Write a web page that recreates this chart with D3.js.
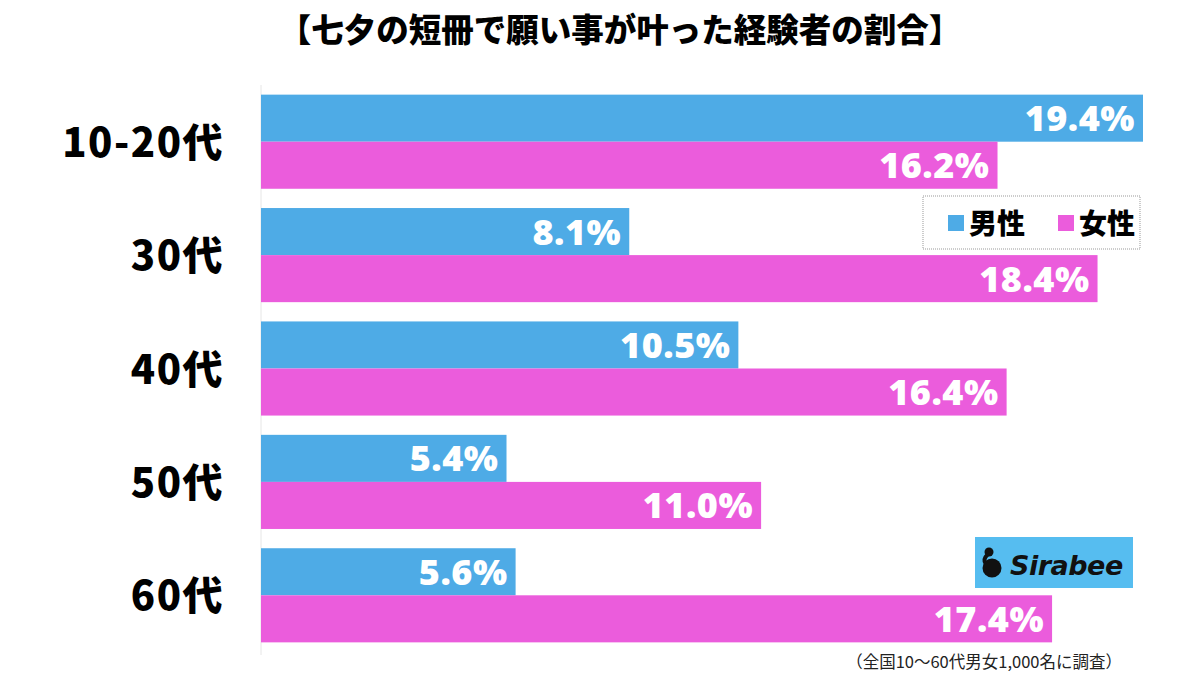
<!DOCTYPE html>
<html>
<head>
<meta charset="utf-8">
<script src="https://cdn.jsdelivr.net/npm/d3@7"></script>
<style>
  body { margin: 0; background: #fff; }
  svg { display: block; }
</style>
</head>
<body>
<div id="chart"></div>
<script>
// data
const categories = ["10-20代", "30代", "40代", "50代", "60代"];
const seriesNames = ["男性", "女性"];
const maleValues = [19.4, 8.1, 10.5, 5.4, 5.6];
const femaleValues = [16.2, 18.4, 16.4, 11.0, 17.4];
const colors = ["#4eabe6", "#eb5cdc"];

const W = 1200, H = 681;
const left = 261;

const svg = d3.select("#chart").append("svg")
  .attr("width", W)
  .attr("height", H);

// title
svg.append("text")
  .attr("x", 620)
  .attr("y", 42)
  .attr("text-anchor", "middle")
  .style("font-family", "'Noto Sans CJK JP', sans-serif")
  .style("font-weight", 900)
  .style("font-size", "32.5px")
  .text("【七夕の短冊で願い事が叶った経験者の割合】");

const x = d3.scaleLinear().domain([0, 19.4]).range([left, 1143]);

const y0 = d3.scaleBand()
  .domain(categories)
  .range([85, 652])
  .paddingInner(0.17)
  .paddingOuter(0.085);

const y1 = d3.scaleBand()
  .domain(seriesNames)
  .range([0, y0.bandwidth()]);

// faint axis line
svg.append("line")
  .attr("x1", left).attr("x2", left)
  .attr("y1", 85).attr("y2", 655)
  .attr("stroke", "#e6e6e6")
  .attr("stroke-width", 1);

const rows = categories.map((c, i) => ({
  cat: c,
  vals: [
    { s: seriesNames[0], v: maleValues[i], col: colors[0] },
    { s: seriesNames[1], v: femaleValues[i], col: colors[1] }
  ]
}));

const g = svg.selectAll(".grp")
  .data(rows)
  .enter()
  .append("g")
  .attr("transform", d => `translate(0,${y0(d.cat)})`);

g.selectAll("rect")
  .data(d => d.vals)
  .enter()
  .append("rect")
  .attr("x", left)
  .attr("y", d => y1(d.s))
  .attr("width", d => x(d.v) - left)
  .attr("height", y1.bandwidth())
  .attr("fill", d => d.col);

g.selectAll(".val")
  .data(d => d.vals)
  .enter()
  .append("text")
  .attr("x", d => x(d.v) - 8)
  .attr("y", d => y1(d.s) + y1.bandwidth() / 2 + 13)
  .attr("text-anchor", "end")
  .attr("fill", "#fff")
  .style("font-family", "'Open Sans', sans-serif")
  .style("font-weight", 800)
  .style("font-size", "36px")
  .style("letter-spacing", "0.5px")
  .text(d => d.v.toFixed(1) + "%");

// category labels
svg.selectAll(".cat")
  .data(categories)
  .enter()
  .append("text")
  .attr("x", 224)
  .attr("y", d => y0(d) + y0.bandwidth() / 2 + 15)
  .attr("text-anchor", "end")
  .style("font-family", "'Noto Sans CJK JP', sans-serif")
  .style("font-weight", 900)
  .style("font-size", "40px")
  .style("letter-spacing", "1.5px")
  .text(d => d);

// legend
const lg = svg.append("g").attr("transform", "translate(923,196)");
lg.append("rect")
  .attr("width", 217).attr("height", 53)
  .attr("fill", "#fff")
  .attr("stroke", "#999")
  .attr("stroke-dasharray", "1,1");
const lx = [25, 135];
seriesNames.forEach((s, i) => {
  lg.append("rect")
    .attr("x", lx[i]).attr("y", 19)
    .attr("width", 16).attr("height", 16)
    .attr("fill", colors[i]);
  lg.append("text")
    .attr("x", lx[i] + 21).attr("y", 38)
    .style("font-family", "'Noto Sans CJK JP', sans-serif")
    .style("font-weight", 900)
    .style("font-size", "28px")
    .text(s);
});

// logo
const logo = svg.append("g").attr("transform", "translate(975,537)");
logo.append("rect")
  .attr("width", 158).attr("height", 51)
  .attr("fill", "#56bdf0");
logo.append("circle").attr("cx", 17).attr("cy", 31).attr("r", 9.5).attr("fill", "#111");
logo.append("circle").attr("cx", 14).attr("cy", 15).attr("r", 4.5).attr("fill", "#111");
logo.append("path")
  .attr("d", "M13,17 Q7,23 11,27")
  .attr("stroke", "#111").attr("stroke-width", 4).attr("fill", "none");
logo.append("text")
  .attr("x", 35).attr("y", 38)
  .style("font-family", "'DejaVu Sans', sans-serif")
  .style("font-weight", 700)
  .style("font-style", "italic")
  .style("font-size", "27px")
  .style("letter-spacing", "-0.5px")
  .attr("fill", "#111")
  .text("Sirabee");

// footnote
svg.append("text")
  .attr("x", 1122)
  .attr("y", 668)
  .attr("text-anchor", "end")
  .style("font-family", "'Noto Sans CJK JP', sans-serif")
  .style("font-size", "16.5px")
  .attr("fill", "#222")
  .text("（全国10〜60代男女1,000名に調査）");
</script>
</body>
</html>
